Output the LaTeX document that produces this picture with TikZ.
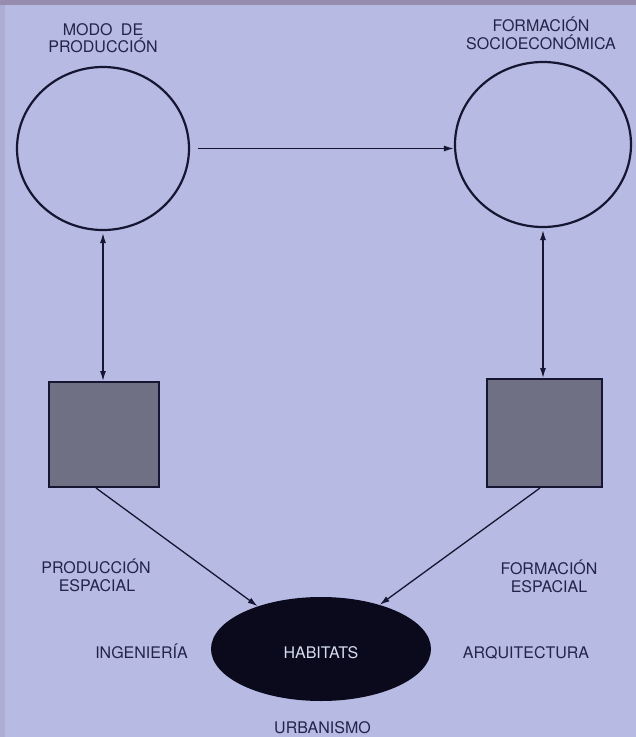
\documentclass[tikz,border=0pt]{standalone}
\usepackage{fontspec}
\setmainfont{TeX Gyre Heros}
\usetikzlibrary{arrows.meta,shapes.geometric}
\definecolor{bgc}{RGB}{183,186,226}
\definecolor{stripc}{RGB}{150,140,175}
\definecolor{linec}{RGB}{22,22,50}
\definecolor{textc}{RGB}{35,35,75}
\definecolor{boxc}{RGB}{112,112,132}
\definecolor{habc}{RGB}{10,10,28}
\definecolor{habtext}{RGB}{215,220,240}
\tikzset{
  lbl/.style={anchor=base,inner sep=0pt,text=textc,font=\fontsize{16}{18}\selectfont},
  circ/.style={ellipse,draw=linec,line width=2.2pt,inner sep=0pt},
  sq/.style={rectangle,draw=linec,line width=2pt,fill=boxc,inner sep=0pt},
  arr/.style={draw=linec,line width=1.3pt,-{Latex[length=10pt,width=6pt]}},
  darr/.style={draw=linec,line width=1.3pt,{Latex[length=10pt,width=6pt]}-{Latex[length=10pt,width=6pt]}}
}
\begin{document}
\begin{tikzpicture}[x=1pt,y=-1pt]
\useasboundingbox (0,0) rectangle (636,737);
\fill[bgc] (0,0) rectangle (636,737);
\fill[stripc] (0,0) rectangle (636,5);
\fill[stripc!30!bgc] (0,5) rectangle (5,737);

% circles
\node[circ,minimum width=172pt,minimum height=163pt] (mp) at (103,148.5) {};
\node[circ,minimum width=176pt,minimum height=165pt] (fs) at (543,144.5) {};
% squares
\node[sq,minimum width=110pt,minimum height=105pt] (ps) at (104,434.5) {};
\node[sq,minimum width=115pt,minimum height=108pt] (fe) at (544,433) {};
% ellipse
\node[ellipse,fill=habc,inner sep=0pt,minimum width=220pt,minimum height=104pt] (hab) at (321,649) {};
\node[lbl,text=habtext] (habt) at (321,658) {HABITATS};

% labels
\node[lbl] (mp1) at (103,35) {MODO\hspace{0.25em} DE};
\node[lbl] (mp2) at (103,52.5) {PRODUCCIÓN};
\node[lbl] (fs1) at (541,31) {FORMACIÓN};
\node[lbl] (fs2) at (541,49) {SOCIOECONÓMICA};
\node[lbl] (ps1) at (96,573) {PRODUCCIÓN};
\node[lbl] (ps2) at (97,591) {ESPACIAL};
\node[lbl] (fe1) at (549,574) {FORMACIÓN};
\node[lbl] (fe2) at (549,592) {ESPACIAL};
\node[lbl] (ing) at (141.5,658) {INGENIERÍA};
\node[lbl] (arq) at (526,658) {ARQUITECTURA};
\node[lbl] (urb) at (322.5,733) {URBANISMO};

% connectors
\draw[arr] ([xshift=8pt]mp.east) -- (mp.east -| fs.west);
\draw[darr] ([yshift=-2pt]mp.south) -- (mp.south |- ps.north);
\draw[darr] ([yshift=-2pt]fs.south) -- (fs.south |- fe.north);
\draw[arr] ([xshift=-8pt]ps.south) -- (hab.146);
\draw[arr] ([xshift=-4pt]fe.south) -- (hab.37);
\end{tikzpicture}
\end{document}
